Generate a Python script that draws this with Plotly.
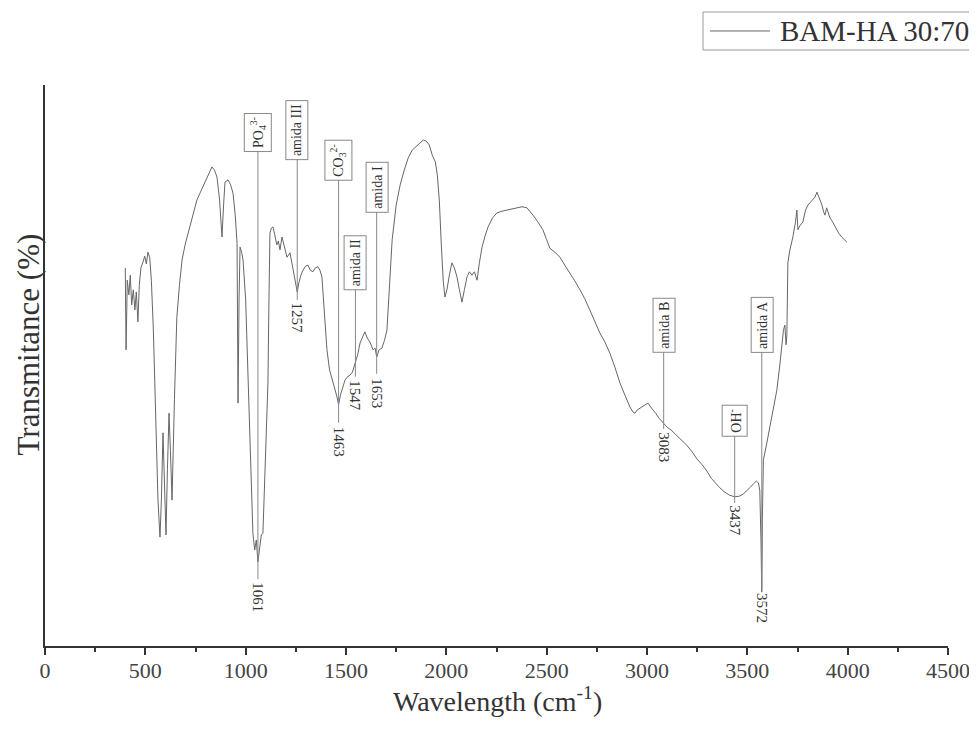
import plotly.graph_objects as go

# ---- spectrum data (wavenumber cm-1, transmittance a.u.) ----
wavenumber = [
    400, 404, 410, 418, 425, 432, 440, 448, 455, 463, 470, 478, 488, 497, 505, 513, 522, 530, 540, 552,
    563, 573, 580, 588, 595, 603, 610, 618, 625, 633, 645, 657, 670, 683, 698, 713, 735, 757, 772, 787,
    810, 832, 845, 857, 870, 882, 890, 897, 912, 925, 937, 948, 957, 962, 967, 972, 980, 987, 1000, 1012,
    1025, 1036, 1045, 1053, 1061, 1070, 1078, 1086, 1095, 1103, 1111, 1116, 1121, 1128, 1136, 1145, 1155, 1163, 1171, 1181,
    1193, 1206, 1221, 1235, 1248, 1257, 1265, 1275, 1286, 1298, 1310, 1322, 1335, 1347, 1360, 1370, 1380, 1393, 1405, 1418,
    1430, 1443, 1455, 1463, 1472, 1485, 1495, 1505, 1520, 1532, 1547, 1558, 1570, 1583, 1594, 1606, 1619, 1635, 1645, 1653,
    1665, 1679, 1692, 1704, 1715, 1730, 1750, 1770, 1790, 1810, 1830, 1850, 1870, 1885, 1900, 1915, 1930, 1945, 1955, 1965,
    1975, 1985, 1993, 2003, 2015, 2028, 2040, 2053, 2065, 2078, 2090, 2103, 2115, 2128, 2140, 2153, 2165, 2178, 2193, 2208,
    2230, 2252, 2277, 2302, 2327, 2352, 2377, 2402, 2417, 2432, 2456, 2481, 2500, 2516, 2541, 2566, 2590, 2616, 2640, 2666,
    2690, 2715, 2740, 2765, 2790, 2815, 2840, 2865, 2890, 2915, 2930, 2940, 2952, 2965, 2980, 2993, 3005, 3018, 3030, 3045,
    3060, 3083, 3100, 3120, 3145, 3170, 3198, 3225, 3250, 3275, 3298, 3320, 3343, 3363, 3385, 3410, 3437, 3460, 3480, 3497,
    3515, 3530, 3545, 3555, 3562, 3568, 3572, 3575, 3580, 3595, 3612, 3630, 3647, 3662, 3672, 3680, 3687, 3693, 3697, 3702,
    3712, 3727, 3740, 3747, 3752, 3762, 3777, 3790, 3802, 3812, 3825, 3837, 3847, 3855, 3862, 3872, 3880, 3887, 3895, 3905,
    3912, 3925, 3940, 3955, 3970, 3985, 3996,
]
transmittance = [
    67.4, 52.8, 65.2, 62.6, 66.1, 60.8, 63.5, 59.9, 63.1, 57.8, 64.3, 67.4, 68.4, 69.5, 68.1, 70.2, 69.2, 65.2, 56.3, 40.3,
    26.0, 19.4, 26.0, 38.0, 29.6, 19.8, 31.4, 41.5, 34.9, 26.0, 43.9, 58.6, 64.3, 68.8, 71.5, 73.6, 76.8, 79.5, 80.7, 81.8,
    83.6, 85.4, 84.8, 83.6, 79.5, 72.9, 78.6, 82.7, 83.1, 82.2, 80.7, 76.8, 71.8, 43.3, 61.7, 71.1, 70.2, 68.8, 61.7, 47.4,
    33.2, 20.1, 17.1, 18.9, 15.0, 17.5, 19.8, 20.1, 29.6, 38.5, 46.9, 61.7, 73.6, 74.5, 74.7, 73.3, 71.5, 72.2, 70.6, 72.9,
    70.9, 69.3, 70.1, 67.4, 64.9, 63.1, 64.7, 66.1, 67.0, 67.7, 67.9, 67.0, 66.7, 67.4, 67.6, 67.0, 65.8, 59.9, 52.8, 49.2,
    47.4, 46.0, 44.4, 43.0, 44.7, 46.5, 47.4, 47.9, 48.3, 48.8, 50.6, 51.9, 54.0, 55.1, 56.0, 54.9, 54.2, 52.8, 53.1, 51.5,
    52.8, 53.1, 54.5, 56.3, 63.5, 72.4, 78.6, 82.2, 84.8, 87.0, 88.4, 89.1, 89.8, 90.2, 90.0, 89.3, 87.5, 86.3, 84.0, 79.5,
    71.5, 64.9, 62.2, 63.5, 66.1, 68.3, 67.4, 65.8, 63.5, 61.3, 63.5, 65.8, 66.7, 66.1, 66.7, 65.2, 68.4, 71.1, 73.1, 74.7,
    76.3, 77.2, 77.5, 77.7, 77.9, 78.1, 78.3, 78.1, 77.5, 76.8, 75.6, 74.2, 72.4, 70.9, 70.2, 69.3, 67.9, 66.5, 65.1, 63.5,
    61.9, 59.9, 57.8, 55.8, 54.2, 52.2, 49.7, 46.9, 44.7, 42.6, 41.7, 41.5, 42.1, 42.4, 42.8, 43.0, 43.3, 42.6, 42.1, 41.4,
    40.6, 39.6, 39.0, 38.5, 37.6, 36.7, 35.8, 34.6, 33.3, 32.3, 31.2, 29.9, 28.9, 28.2, 27.5, 26.9, 26.6, 26.7, 27.1, 27.6,
    28.3, 28.9, 29.4, 29.1, 27.8, 18.9, 9.6, 22.5, 33.2, 35.8, 39.0, 42.4, 45.6, 50.1, 53.3, 56.3, 57.2, 53.7, 55.4, 68.3,
    70.6, 72.9, 75.6, 77.7, 74.2, 74.9, 75.6, 77.7, 78.6, 79.0, 79.5, 80.0, 80.9, 80.2, 79.3, 78.6, 77.4, 76.8, 78.1, 77.0,
    76.3, 75.6, 74.5, 73.6, 72.9, 72.4, 72.0,
]
series_name = "BAM-HA 30:70"
x_title = "Wavelength (cm<sup>-1</sup>)"
y_title = "Transmitance (%)"

# ---- band annotations ----
peak_positions = [1061, 1257, 1463, 1547, 1653, 3083, 3437, 3572]
peak_labels = ["1061", "1257", "1463", "1547", "1653", "3083", "3437", "3572"]
band_names = ["PO<sub>4</sub><sup>3-</sup>", "amida III", "CO<sub>3</sub><sup>2-</sup>", "amida II",
              "amida I", "amida B", "OH<sup>-</sup>", "amida A"]
# vertical placement of the band boxes, lines and number labels (transmittance units)
box_y = [91.6, 92.0, 86.6, 68.3, 81.8, 57.2, 40.1, 57.2]
line_end_y = [11.9, 61.7, 39.8, 48.0, 48.5, 38.7, 25.5, 10.2]
number_y = [8.7, 58.5, 36.5, 44.6, 45.1, 35.5, 22.3, 6.8]

x_ticks = [0, 500, 1000, 1500, 2000, 2500, 3000, 3500, 4000, 4500]

SERIF = "Liberation Serif, Times New Roman, serif"
GRAY = "#666666"

fig = go.Figure()
fig.add_trace(go.Scatter(
    x=wavenumber, y=transmittance, mode="lines",
    line=dict(color=GRAY, width=1), name=series_name, showlegend=False,
))

for xp, lab, name, by, ly, ny in zip(peak_positions, peak_labels, band_names, box_y, line_end_y, number_y):
    fig.add_shape(type="line", x0=xp, x1=xp, y0=by, y1=ly, xref="x", yref="y",
                  line=dict(color="#888888", width=1))
    fig.add_annotation(x=xp, y=by, text=name, textangle=-90, showarrow=False,
                       xanchor="center", yanchor="middle",
                       font=dict(family=SERIF, size=14, color="#333333"),
                       bgcolor="white", bordercolor="#888888", borderwidth=1, borderpad=3)
    fig.add_annotation(x=xp, y=ny, text=lab, textangle=90, showarrow=False,
                       xanchor="center", yanchor="middle",
                       font=dict(family=SERIF, size=15, color="#333333"))

# legend box drawn in paper coordinates (top-right, outside plot area)
fig.add_shape(type="rect", xref="paper", yref="paper", x0=0.7287, x1=1.0299, y0=1.0624, y1=1.1301,
              line=dict(color="#999999", width=1), fillcolor="white")
fig.add_shape(type="line", xref="paper", yref="paper", x0=0.7364, x1=0.8029, y0=1.0963, y1=1.0963,
              line=dict(color=GRAY, width=1))
fig.add_annotation(xref="paper", yref="paper", x=0.812, y=1.0963, text=series_name, showarrow=False,
                   xanchor="left", yanchor="middle",
                   font=dict(family=SERIF, size=29, color="#333333"))

# axis titles
fig.add_annotation(xref="paper", yref="paper", x=0.5006, y=-0.0945, text=x_title, showarrow=False,
                   xanchor="center", yanchor="middle",
                   font=dict(family=SERIF, size=28, color="#333333"))
fig.add_annotation(xref="paper", yref="paper", x=-0.0188, y=0.5374, text=y_title, showarrow=False,
                   textangle=-90, xanchor="center", yanchor="middle",
                   font=dict(family=SERIF, size=31, color="#333333"))

fig.update_layout(
    width=969, height=735,
    margin=dict(l=37, r=29, t=77, b=97),
    paper_bgcolor="white", plot_bgcolor="white",
    showlegend=False,
    font=dict(family=SERIF, color="#333333"),
)
fig.update_xaxes(
    range=[0, 4500], tickvals=x_ticks, ticktext=[str(t) for t in x_ticks],
    automargin=False,
    showline=True, linecolor="#333333", linewidth=2, mirror=False,
    ticks="outside", ticklen=7, tickwidth=2, tickcolor="#333333",
    minor=dict(dtick=250, ticks="outside", ticklen=4, tickwidth=1.5, tickcolor="#333333"),
    showgrid=False, zeroline=False, ticklabelstandoff=-3,
    tickfont=dict(family=SERIF, size=22, color="#444444"),
)
fig.update_yaxes(
    range=[0, 100], automargin=False,
    showline=True, linecolor="#333333", linewidth=2,
    showticklabels=False, ticks="", showgrid=False, zeroline=False,
)

fig.write_html("out.html")
